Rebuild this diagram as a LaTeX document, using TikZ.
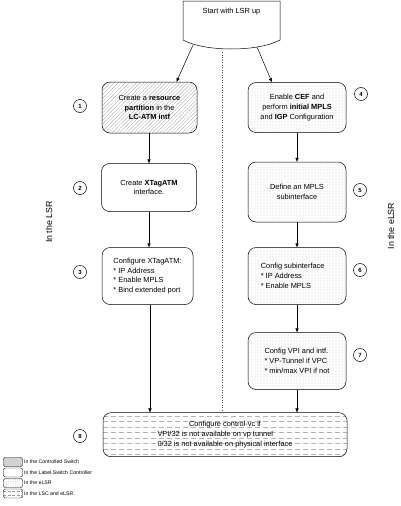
\documentclass[tikz,border=0pt]{standalone}
\usepackage{fontspec}
\setmainfont{Liberation Sans}
\usetikzlibrary{patterns.meta,arrows.meta,calc}
\pgfdeclarelayer{bg}
\pgfsetlayers{bg,main}
\newcommand\boxfont{\fontsize{7.4}{9.8}\selectfont}
\newcommand\legfont{\fontsize{5.2}{6}\selectfont}
\tikzset{
  stepbox/.style={draw, rounded corners=8pt, line width=0.5pt, align=center, font=\boxfont, inner sep=1pt},
  hatchbox/.style={stepbox, pattern={Lines[angle=45,distance=2.6pt,line width=0.3pt]}, pattern color=black!35},
  dotbox/.style={stepbox, pattern={Dots[distance=3pt,radius=0.42pt]}, pattern color=black!50},
  numcirc/.style={draw, circle, line width=0.5pt, minimum size=13pt, inner sep=0pt, font=\fontsize{6}{6}\selectfont\bfseries},
  arr/.style={line width=0.5pt, -{Triangle[width=3.2pt,length=4pt]}},
  side/.style={font=\fontsize{8.8}{9}\selectfont, rotate=90},
  legbox/.style={draw, rounded corners=2pt, line width=0.4pt, minimum width=19pt, minimum height=9pt, inner sep=0pt},
  legtext/.style={font=\legfont, anchor=west, inner sep=0pt},
  dashfill/.style={draw=black!30, line width=0.35pt, dash pattern=on 5pt off 3pt}
}
\begin{document}
\begin{tikzpicture}[x=1pt,y=-1pt]
\useasboundingbox (0,0) rectangle (400,506);

% start shape
\draw[line width=0.5pt] (183,1) -- (183,40) .. controls (205,52) and (258,52) .. (280,40) -- (280,1) -- cycle;
\node[font=\boxfont, inner sep=0pt] (start) at (231.5,12) {Start with LSR up};
\coordinate (s1) at (193,45);
\coordinate (s2) at (257,47);

% separator
\draw[line width=0.5pt, dotted, black!70] (222,52) -- (222,412);

% left column
\node[hatchbox, minimum width=95pt, minimum height=51pt] (b1) at (149.5,107.5)
  {Create a \textbf{resource}\\ \textbf{partition} in the\\ \textbf{LC-ATM intf}};
\node[stepbox, minimum width=95pt, minimum height=48pt] (b2) at (149,187.5)
  {Create \textbf{XTagATM}\\ interface.};
\node[stepbox, minimum width=91pt, minimum height=57pt, align=left] (b3) at (147.5,276)
  {Configure XTagATM:\\ * IP Address\\ * Enable MPLS\\ * Bind extended port};

% right column
\node[dotbox, minimum width=98pt, minimum height=50pt] (b4) at (297,107.5)
  {Enable \textbf{CEF} and\\ perform \textbf{initial MPLS}\\ and \textbf{IGP} Configuration};
\node[dotbox, minimum width=98pt, minimum height=60pt] (b5) at (297,192)
  {Define an MPLS\\ subinterface};
\node[dotbox, minimum width=98pt, minimum height=57pt, align=left] (b6) at (297,276)
  {Config subinterface\\ * IP Address\\ * Enable MPLS\phantom{xxxxxx}};
\node[dotbox, minimum width=98pt, minimum height=57pt, align=left] (b7) at (297,361)
  {Config VPI and intf.\\ * VP-Tunnel if VPC\\ * min/max VPI if not};

% bottom box
\node[stepbox, minimum width=244pt, minimum height=44pt] (b8) at (225,434.7)
  {\begin{tabular}{@{}l@{}}\multicolumn{1}{@{}c@{}}{Configure control-vc if}\\ * VPI/32 is not available on vp tunnel\\ * 0/32 is not available on physical interface\end{tabular}};
\begin{pgfonlayer}{bg}
  \begin{scope}
    \clip[rounded corners=8pt] (b8.south west) rectangle (b8.north east);
    \foreach \yy in {416,421.5,...,458} {
      \draw[dashfill] ($(b8.west)+(0,\yy-434.7)$) -- ($(b8.east)+(0,\yy-434.7)$);
    }
  \end{scope}
\end{pgfonlayer}

% connectors
\draw[arr] (s1) -- ($(b1.north)+(27,0)$);
\draw[arr] (s2) -- ($(b4.north)+(-25,0)$);
\draw[arr] (b1.south -| b2) -- (b2.north);
\draw[arr] (b2.south -| 149,0) -- (b3.north -| 149,0);
\draw[arr] (b3.south -| 150,0) -- (b8.north -| 150,0);
\draw[arr] (b4) -- (b5);
\draw[arr] (b5) -- (b6);
\draw[arr] (b6) -- (b7);
\draw[arr] (b7.south) -- (b8.north -| b7.south);

% step numbers
\node[numcirc] (n1) at (80,106) {1};
\node[numcirc] (n2) at (80,188) {2};
\node[numcirc] (n3) at (80,272) {3};
\node[numcirc] (n4) at (361,94) {4};
\node[numcirc] (n5) at (360,190) {5};
\node[numcirc] (n6) at (360,270) {6};
\node[numcirc] (n7) at (360,355) {7};
\node[numcirc] (n8) at (80,436) {8};

% side labels
\node[side] (lsr) at (49,222) {In the LSR};
\node[side] (elsr) at (391,226) {In the eLSR};

% legend
\node[legbox, fill=black!18] (l1) at (13,462) {};
\node[legbox] (l2) at (13,472.5) {};
\node[legbox, pattern={Dots[distance=2.2pt,radius=0.3pt]}, pattern color=black!50] (l3) at (13,483) {};
\node[legbox] (l4) at (13,493.5) {};
\begin{pgfonlayer}{bg}
  \begin{scope}
    \clip[rounded corners=2pt] (l4.south west) rectangle (l4.north east);
    \foreach \yy in {-2,2} {
      \draw[black!40, line width=0.3pt, dash pattern=on 3pt off 1.5pt] ($(l4.west)+(0,\yy)$) -- ($(l4.east)+(0,\yy)$);
    }
  \end{scope}
\end{pgfonlayer}
\node[legtext] (t1) at (24,462) {In the Controlled Switch};
\node[legtext] (t2) at (24,472.5) {In the Label Switch Controller};
\node[legtext] (t3) at (24,483) {In the eLSR};
\node[legtext] (t4) at (24,493.5) {In the LSC and eLSR};
\end{tikzpicture}
\end{document}
